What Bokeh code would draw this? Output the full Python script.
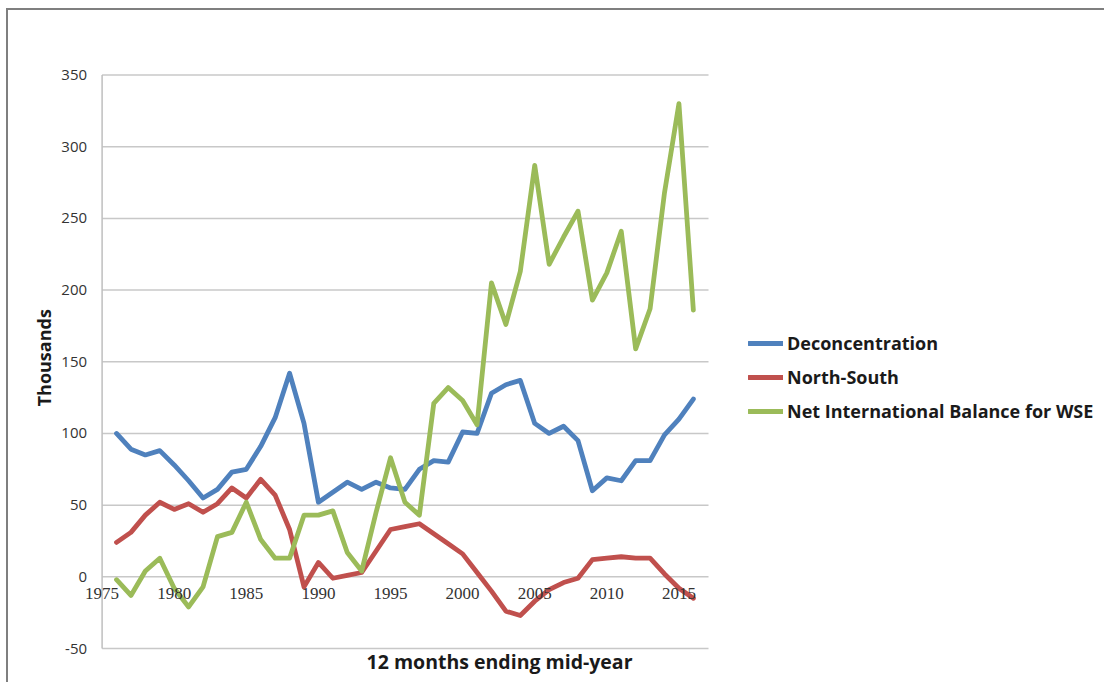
import math
from bokeh.plotting import figure
from bokeh.models import Range1d, Legend, LegendItem, Label
from bokeh.core.properties import value
from bokeh.embed import file_html
from bokeh.resources import INLINE

years = list(range(1976, 2017))
deconcentration = [100, 89, 85, 88, 78, 67, 55, 61, 73, 75,
                   91, 111, 142, 107, 52, 59, 66, 61, 66, 62,
                   61, 75, 81, 80, 101, 100, 128, 134, 137, 107,
                   100, 105, 95, 60, 69, 67, 81, 81, 99, 110,
                   124]
north_south = [24, 31, 43, 52, 47, 51, 45, 51, 62, 55,
               68, 57, 33, -7, 10, -1, 1, 3, 18, 33,
               35, 37, 30, 23, 16, 3, -10, -24, -27, -17,
               -9, -4, -1, 12, 13, 14, 13, 13, 2, -8,
               -15]
net_international = [-2, -13, 4, 13, -8, -21, -7, 28, 31, 52,
                     26, 13, 13, 43, 43, 46, 17, 4, 45, 83,
                     52, 43, 121, 132, 123, 106, 205, 176, 213, 287,
                     218, 237, 255, 193, 212, 241, 159, 187, 268, 330,
                     186]
series_names = ["Deconcentration", "North-South", "Net International Balance for WSE"]
series_colors = ["#4F81BD", "#C0504D", "#9BBB59"]
x_ticks = [1975, 1980, 1985, 1990, 1995, 2000, 2005, 2010, 2015]
y_ticks = [-50, 0, 50, 100, 150, 200, 250, 300, 350]
x_labels = [str(t) for t in x_ticks]
y_labels = [str(t) for t in y_ticks]
x_title = "12 months ending mid-year"
y_title = "Thousands"

# axis bounds
X_MIN, X_MAX = 1975, 2017.05
Y_MIN, Y_MAX = -50, 350

# ---- layout (page pixels) ----
W, H = 1098, 674
ORIGIN_X, ORIGIN_Y = 8, 10          # after margin + 2px border
FRAME_L, FRAME_R, FRAME_T, FRAME_B = 18, 1104, 18, 680
AX_L, AX_R, AX_T, AX_B = 101.6, 708.0, 74.5, 648.0   # plot area in page px

ppx = (AX_R - AX_L) / (X_MAX - X_MIN)
ppy = (AX_B - AX_T) / (Y_MAX - Y_MIN)
x_start = X_MIN - (AX_L - FRAME_L) / ppx
x_end = X_MAX + (FRAME_R - AX_R) / ppx
y_end = Y_MAX + (AX_T - FRAME_T) / ppy
y_start = Y_MIN - (FRAME_B - AX_B) / ppy

SANS = "Open Sans"
SERIF = "Liberation Serif"
DARK = "#1a1a1a"

p = figure(width=W, height=H, output_backend="svg", toolbar_location=None,
           x_range=Range1d(x_start, x_end), y_range=Range1d(y_start, y_end),
           x_axis_location=None, y_axis_location=None,
           min_border_left=FRAME_L - ORIGIN_X, min_border_right=ORIGIN_X + W - FRAME_R,
           min_border_top=FRAME_T - ORIGIN_Y, min_border_bottom=ORIGIN_Y + H - FRAME_B)
p.styles = {"border-top": "2px solid #7F7F7F", "border-left": "2px solid #7F7F7F",
            "margin-left": "6px", "margin-top": "8px"}
p.outline_line_color = None
p.grid.visible = False
p.background_fill_color = "white"
p.border_fill_color = "white"

# horizontal gridlines and vertical axis line
p.segment(x0=X_MIN, x1=X_MAX, y0=y_ticks, y1=y_ticks, line_color="#C8C8C8", line_width=1.5)
p.segment(x0=X_MIN, x1=X_MIN, y0=Y_MIN, y1=Y_MAX, line_color="#BFBFBF", line_width=1.5)

renderers = []
for vals, color in zip([deconcentration, north_south, net_international], series_colors):
    r = p.line(years, vals, line_color=color, line_width=4.8, line_join="round", line_cap="round")
    renderers.append(r)

# tick labels
p.text(x=X_MIN, y=y_ticks, text=y_labels, x_offset=-15, text_align="right", text_baseline="middle",
       text_font=value(SANS), text_font_size="15px", text_color="#333333")
p.text(x=x_ticks, y=0, text=x_labels, y_offset=17, text_align="center", text_baseline="middle",
       text_font=value(SERIF), text_font_size="17px", text_color="#333333")

# axis titles
p.add_layout(Label(x=X_MIN, y=(Y_MIN + Y_MAX) / 2, x_offset=-58, y_offset=4, text=y_title,
                   angle=math.pi / 2, text_align="center", text_baseline="middle",
                   text_font=SANS, text_font_style="bold", text_font_size="18px", text_color=DARK))
p.add_layout(Label(x=2002.56, y=-59.0, text=x_title, text_align="center", text_baseline="middle",
                   text_font=SANS, text_font_style="bold", text_font_size="19.5px", text_color=DARK))

legend = Legend(items=[LegendItem(label=n, renderers=[r]) for n, r in zip(series_names, renderers)],
                location=(748 - FRAME_L, FRAME_B - 423), orientation="vertical",
                glyph_width=35, glyph_height=24, label_height=24, label_standoff=4,
                spacing=10, padding=0, margin=0,
                border_line_color=None, background_fill_alpha=0,
                label_text_font=SANS, label_text_font_style="bold",
                label_text_font_size="18px", label_text_color=DARK)
p.add_layout(legend)

open("out.html", "w").write(file_html(p, INLINE))
